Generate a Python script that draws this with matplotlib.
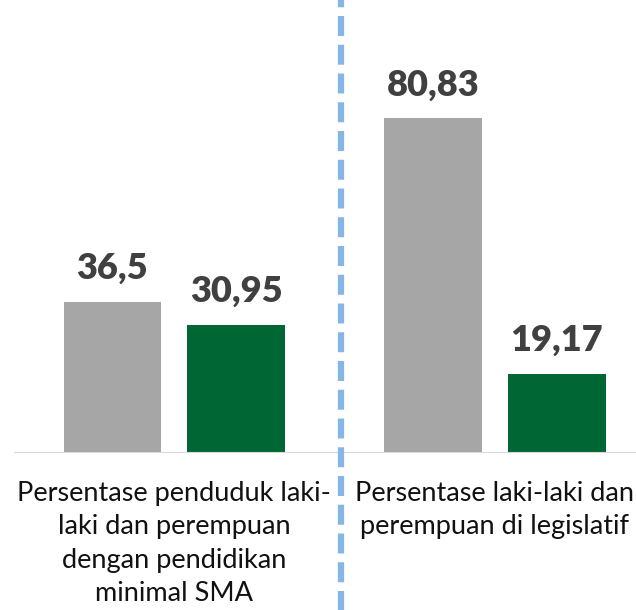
import matplotlib.pyplot as plt
import numpy as np

plt.rcParams['font.family'] = ['Lato', 'DejaVu Sans']

categories = ['Persentase penduduk laki-\nlaki dan perempuan\ndengan pendidikan\nminimal SMA',
              'Persentase laki-laki dan\nperempuan di legislatif']
laki = [36.5, 80.83]
perempuan = [30.95, 19.17]
laki_lbl = ['36,5', '80,83']
perempuan_lbl = ['30,95', '19,17']

fig = plt.figure(figsize=(6.36, 6.10), dpi=100)
ax = fig.add_axes([0.022, 0.2574, 0.978, 0.679])

x = np.arange(len(categories))
w = 0.305
off = 0.193
b1 = ax.bar(x - off, laki, w, color='#A6A6A6')
b2 = ax.bar(x + off, perempuan, w, color='#006633')

for bars, lbls in ((b1, laki_lbl), (b2, perempuan_lbl)):
    for bar, t in zip(bars, lbls):
        ax.annotate(t, (bar.get_x() + bar.get_width() / 2, bar.get_height()),
                    xytext=(0, 12), textcoords='offset points',
                    ha='center', va='bottom', fontsize=26, fontweight='heavy',
                    color='#404040')

for xi, c in zip(x, categories):
    ax.annotate(c, (xi, 0), xytext=(0, -20), textcoords='offset points',
                ha='center', va='top', fontsize=19.5, color='#111111',
                linespacing=1.42, annotation_clip=False)

ax.set_xlim(-0.5, 1.44)
ax.set_ylim(0, 100)
ax.axhline(0, color='#D9D9D9', lw=1.5)
# separator between the two groups
ax.plot([0.52, 0.52], [-40, 112], color='#85B6E6', lw=4.5,
        linestyle=(0, (3.2, 1.4)), clip_on=False)

ax.set_xticks([])
ax.set_yticks([])
for s in ax.spines.values():
    s.set_visible(False)

fig.savefig('out.png', dpi=100)
